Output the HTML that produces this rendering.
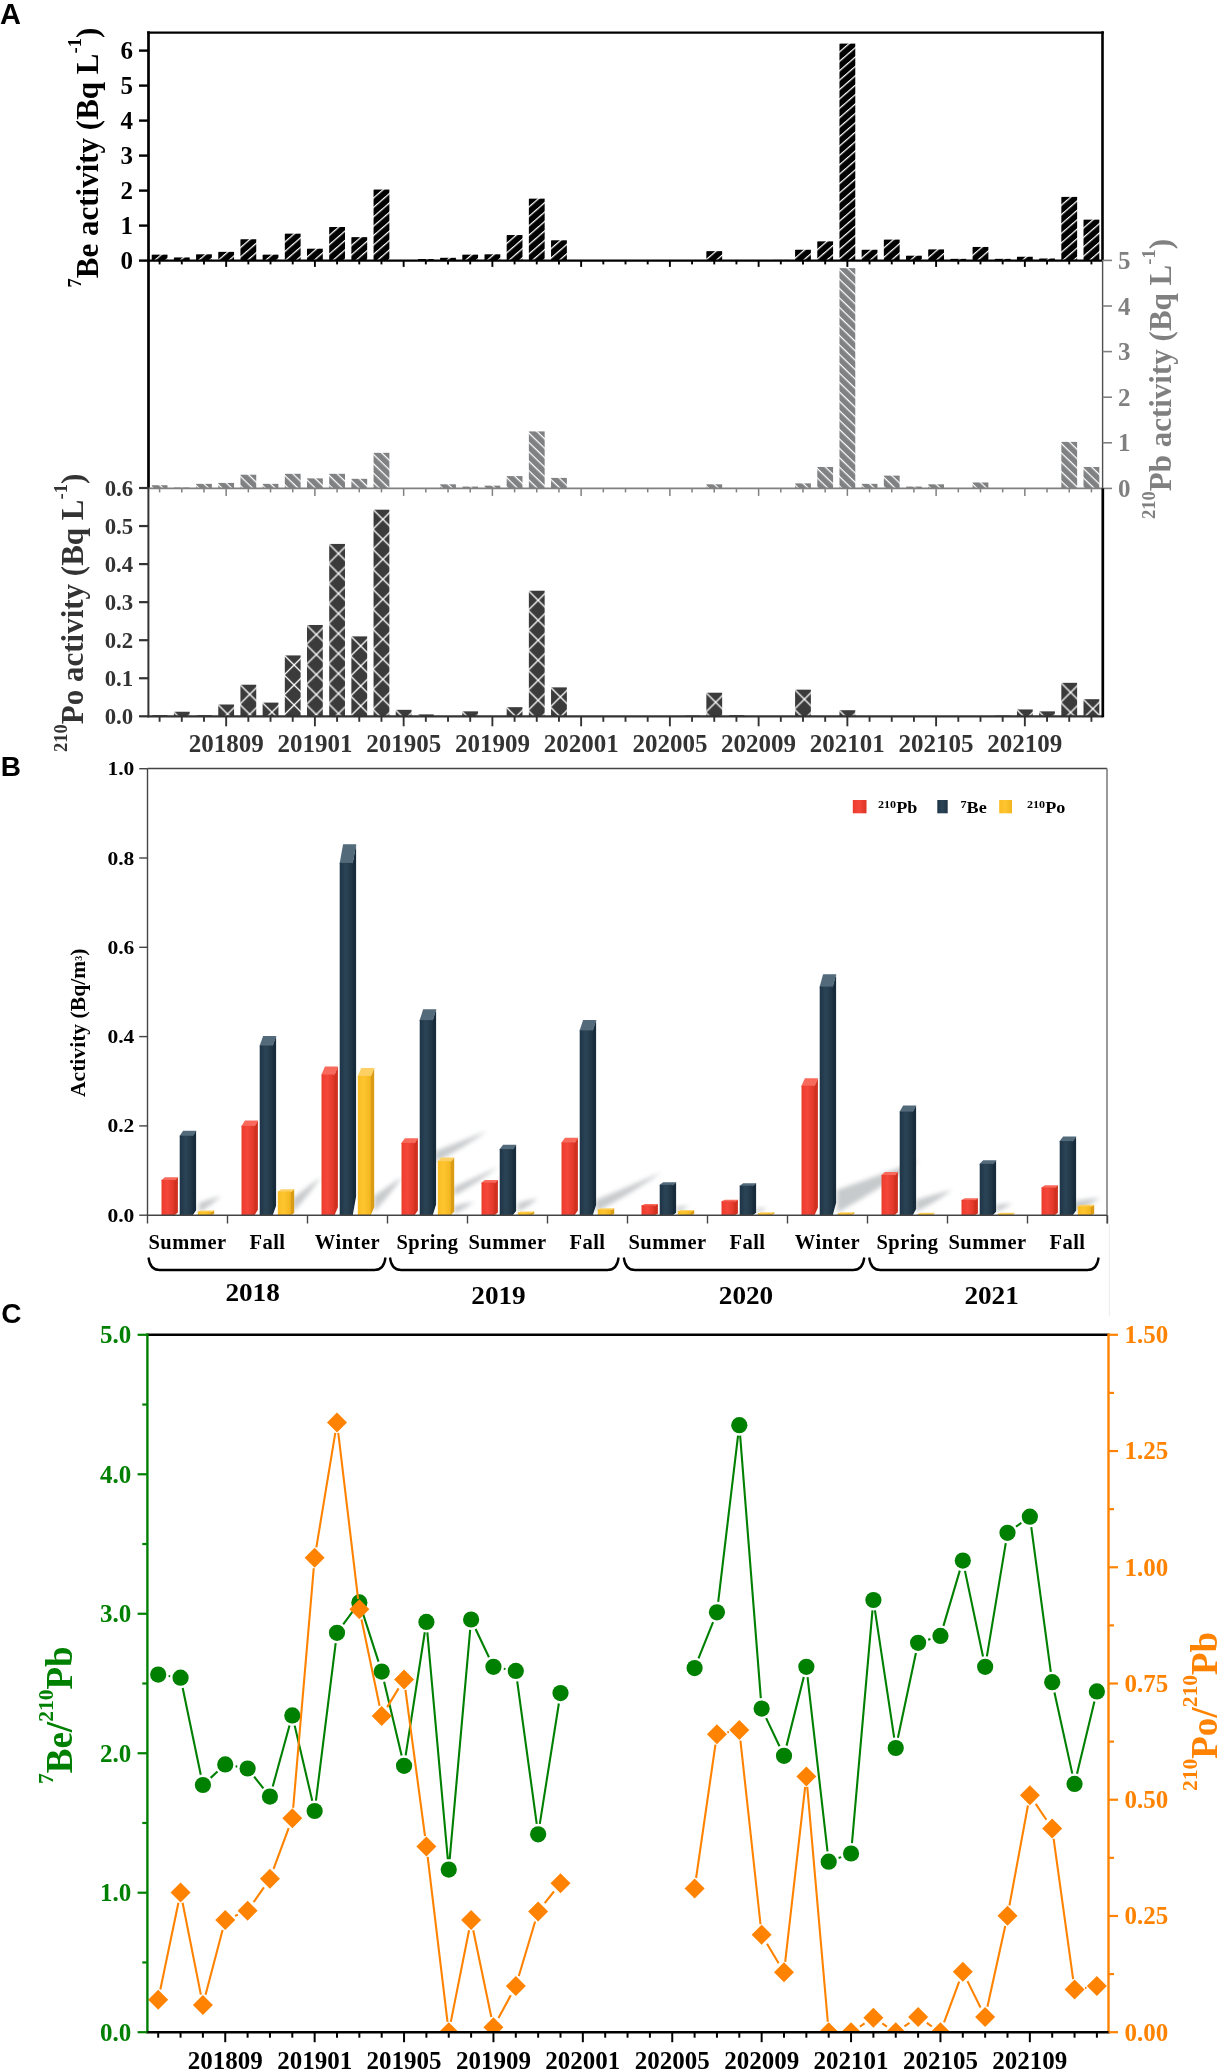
<!DOCTYPE html>
<html><head><meta charset="utf-8"><title>Figure</title>
<style>html,body{margin:0;padding:0;background:#fff;} svg{display:block;will-change:transform;}</style></head>
<body><svg width="1221" height="2072" viewBox="0 0 1221 2072">
<defs><pattern id="hBe" patternUnits="userSpaceOnUse" width="40" height="7.094" y="0.5" patternTransform="rotate(-41)"><rect x="0" y="0" width="40" height="7.094" fill="#000"/><rect x="0" y="0" width="40" height="1.25" fill="#fff"/></pattern><pattern id="hPb" patternUnits="userSpaceOnUse" width="40" height="6.762" y="-0.75" patternTransform="rotate(44)"><rect x="0" y="0" width="40" height="6.762" fill="#808183"/><rect x="0" y="0" width="40" height="1.25" fill="#fff"/></pattern><pattern id="hPo" patternUnits="userSpaceOnUse" width="20" height="20" x="-8.6" y="-0.4"><rect width="20" height="20" fill="#3b3b3c"/><path d="M-2,-2 L22,22 M-2,22 L22,-2 M-12,8 L-8,12 M8,-12 L12,-8" stroke="#fff" stroke-width="1.3" fill="none"/></pattern><filter id="blur3" x="-50%" y="-50%" width="200%" height="200%"><feGaussianBlur stdDeviation="3"/></filter><filter id="blur2" x="-50%" y="-50%" width="200%" height="200%"><feGaussianBlur stdDeviation="2"/></filter><clipPath id="clipC"><rect x="147" y="1334" width="962" height="698.3"/></clipPath><linearGradient id="gf0" x1="0" y1="0" x2="1" y2="0"><stop offset="0" stop-color="#ec3b2b"/><stop offset="0.45" stop-color="#f4473a"/><stop offset="1" stop-color="#dd3525"/></linearGradient><linearGradient id="gf1" x1="0" y1="0" x2="1" y2="0"><stop offset="0" stop-color="#1d3446"/><stop offset="0.45" stop-color="#2b4455"/><stop offset="1" stop-color="#1f3445"/></linearGradient><linearGradient id="gf2" x1="0" y1="0" x2="1" y2="0"><stop offset="0" stop-color="#fbbd22"/><stop offset="0.45" stop-color="#fec530"/><stop offset="1" stop-color="#f2b51e"/></linearGradient></defs>
<rect width="1221" height="2072" fill="#fff"/>
<text x="0.00" y="24.30" font-family='"Liberation Sans", sans-serif' font-size="29" font-weight="bold" fill="#000" text-anchor="start" >A</text>
<g transform="translate(159.60,254.65)"><rect x="-7.90" y="0" width="15.8" height="5.95" fill="url(#hBe)"/></g>
<g transform="translate(181.79,257.45)"><rect x="-7.90" y="0" width="15.8" height="3.15" fill="url(#hBe)"/></g>
<g transform="translate(203.97,254.30)"><rect x="-7.90" y="0" width="15.8" height="6.30" fill="url(#hBe)"/></g>
<g transform="translate(226.16,251.85)"><rect x="-7.90" y="0" width="15.8" height="8.75" fill="url(#hBe)"/></g>
<g transform="translate(248.34,239.25)"><rect x="-7.90" y="0" width="15.8" height="21.35" fill="url(#hBe)"/></g>
<g transform="translate(270.53,254.65)"><rect x="-7.90" y="0" width="15.8" height="5.95" fill="url(#hBe)"/></g>
<g transform="translate(292.72,233.65)"><rect x="-7.90" y="0" width="15.8" height="26.95" fill="url(#hBe)"/></g>
<g transform="translate(314.90,248.70)"><rect x="-7.90" y="0" width="15.8" height="11.90" fill="url(#hBe)"/></g>
<g transform="translate(337.09,227.00)"><rect x="-7.90" y="0" width="15.8" height="33.60" fill="url(#hBe)"/></g>
<g transform="translate(359.27,237.15)"><rect x="-7.90" y="0" width="15.8" height="23.45" fill="url(#hBe)"/></g>
<g transform="translate(381.46,189.55)"><rect x="-7.90" y="0" width="15.8" height="71.05" fill="url(#hBe)"/></g>
<g transform="translate(425.83,259.03)"><rect x="-7.90" y="0" width="15.8" height="1.57" fill="url(#hBe)"/></g>
<g transform="translate(448.02,257.80)"><rect x="-7.90" y="0" width="15.8" height="2.80" fill="url(#hBe)"/></g>
<g transform="translate(470.20,254.65)"><rect x="-7.90" y="0" width="15.8" height="5.95" fill="url(#hBe)"/></g>
<g transform="translate(492.39,254.30)"><rect x="-7.90" y="0" width="15.8" height="6.30" fill="url(#hBe)"/></g>
<g transform="translate(514.58,235.05)"><rect x="-7.90" y="0" width="15.8" height="25.55" fill="url(#hBe)"/></g>
<g transform="translate(536.76,198.65)"><rect x="-7.90" y="0" width="15.8" height="61.95" fill="url(#hBe)"/></g>
<g transform="translate(558.95,240.30)"><rect x="-7.90" y="0" width="15.8" height="20.30" fill="url(#hBe)"/></g>
<g transform="translate(714.25,251.15)"><rect x="-7.90" y="0" width="15.8" height="9.45" fill="url(#hBe)"/></g>
<g transform="translate(780.81,259.90)"><rect x="-7.90" y="0" width="15.8" height="0.70" fill="url(#hBe)"/></g>
<g transform="translate(802.99,249.75)"><rect x="-7.90" y="0" width="15.8" height="10.85" fill="url(#hBe)"/></g>
<g transform="translate(825.18,241.35)"><rect x="-7.90" y="0" width="15.8" height="19.25" fill="url(#hBe)"/></g>
<g transform="translate(847.37,43.60)"><rect x="-7.90" y="0" width="15.8" height="217.00" fill="url(#hBe)"/></g>
<g transform="translate(869.55,249.75)"><rect x="-7.90" y="0" width="15.8" height="10.85" fill="url(#hBe)"/></g>
<g transform="translate(891.74,239.60)"><rect x="-7.90" y="0" width="15.8" height="21.00" fill="url(#hBe)"/></g>
<g transform="translate(913.92,255.70)"><rect x="-7.90" y="0" width="15.8" height="4.90" fill="url(#hBe)"/></g>
<g transform="translate(936.11,249.40)"><rect x="-7.90" y="0" width="15.8" height="11.20" fill="url(#hBe)"/></g>
<g transform="translate(958.30,258.85)"><rect x="-7.90" y="0" width="15.8" height="1.75" fill="url(#hBe)"/></g>
<g transform="translate(980.48,246.95)"><rect x="-7.90" y="0" width="15.8" height="13.65" fill="url(#hBe)"/></g>
<g transform="translate(1002.67,258.85)"><rect x="-7.90" y="0" width="15.8" height="1.75" fill="url(#hBe)"/></g>
<g transform="translate(1024.85,256.75)"><rect x="-7.90" y="0" width="15.8" height="3.85" fill="url(#hBe)"/></g>
<g transform="translate(1047.04,258.50)"><rect x="-7.90" y="0" width="15.8" height="2.10" fill="url(#hBe)"/></g>
<g transform="translate(1069.23,196.90)"><rect x="-7.90" y="0" width="15.8" height="63.70" fill="url(#hBe)"/></g>
<g transform="translate(1091.41,219.65)"><rect x="-7.90" y="0" width="15.8" height="40.95" fill="url(#hBe)"/></g>
<g transform="translate(159.60,485.21)"><rect x="-7.90" y="0" width="15.8" height="3.19" fill="url(#hPb)"/></g>
<g transform="translate(181.79,487.49)"><rect x="-7.90" y="0" width="15.8" height="0.91" fill="url(#hPb)"/></g>
<g transform="translate(203.97,483.84)"><rect x="-7.90" y="0" width="15.8" height="4.56" fill="url(#hPb)"/></g>
<g transform="translate(226.16,482.93)"><rect x="-7.90" y="0" width="15.8" height="5.47" fill="url(#hPb)"/></g>
<g transform="translate(248.34,474.72)"><rect x="-7.90" y="0" width="15.8" height="13.68" fill="url(#hPb)"/></g>
<g transform="translate(270.53,483.84)"><rect x="-7.90" y="0" width="15.8" height="4.56" fill="url(#hPb)"/></g>
<g transform="translate(292.72,473.81)"><rect x="-7.90" y="0" width="15.8" height="14.59" fill="url(#hPb)"/></g>
<g transform="translate(314.90,478.37)"><rect x="-7.90" y="0" width="15.8" height="10.03" fill="url(#hPb)"/></g>
<g transform="translate(337.09,473.81)"><rect x="-7.90" y="0" width="15.8" height="14.59" fill="url(#hPb)"/></g>
<g transform="translate(359.27,478.82)"><rect x="-7.90" y="0" width="15.8" height="9.58" fill="url(#hPb)"/></g>
<g transform="translate(381.46,452.83)"><rect x="-7.90" y="0" width="15.8" height="35.57" fill="url(#hPb)"/></g>
<g transform="translate(448.02,484.30)"><rect x="-7.90" y="0" width="15.8" height="4.10" fill="url(#hPb)"/></g>
<g transform="translate(470.20,486.58)"><rect x="-7.90" y="0" width="15.8" height="1.82" fill="url(#hPb)"/></g>
<g transform="translate(492.39,485.66)"><rect x="-7.90" y="0" width="15.8" height="2.74" fill="url(#hPb)"/></g>
<g transform="translate(514.58,476.09)"><rect x="-7.90" y="0" width="15.8" height="12.31" fill="url(#hPb)"/></g>
<g transform="translate(536.76,431.40)"><rect x="-7.90" y="0" width="15.8" height="57.00" fill="url(#hPb)"/></g>
<g transform="translate(558.95,477.91)"><rect x="-7.90" y="0" width="15.8" height="10.49" fill="url(#hPb)"/></g>
<g transform="translate(714.25,484.30)"><rect x="-7.90" y="0" width="15.8" height="4.10" fill="url(#hPb)"/></g>
<g transform="translate(802.99,483.38)"><rect x="-7.90" y="0" width="15.8" height="5.02" fill="url(#hPb)"/></g>
<g transform="translate(825.18,466.97)"><rect x="-7.90" y="0" width="15.8" height="21.43" fill="url(#hPb)"/></g>
<g transform="translate(847.37,268.15)"><rect x="-7.90" y="0" width="15.8" height="220.25" fill="url(#hPb)"/></g>
<g transform="translate(869.55,483.84)"><rect x="-7.90" y="0" width="15.8" height="4.56" fill="url(#hPb)"/></g>
<g transform="translate(891.74,475.63)"><rect x="-7.90" y="0" width="15.8" height="12.77" fill="url(#hPb)"/></g>
<g transform="translate(913.92,486.58)"><rect x="-7.90" y="0" width="15.8" height="1.82" fill="url(#hPb)"/></g>
<g transform="translate(936.11,484.30)"><rect x="-7.90" y="0" width="15.8" height="4.10" fill="url(#hPb)"/></g>
<g transform="translate(980.48,482.47)"><rect x="-7.90" y="0" width="15.8" height="5.93" fill="url(#hPb)"/></g>
<g transform="translate(1069.23,441.89)"><rect x="-7.90" y="0" width="15.8" height="46.51" fill="url(#hPb)"/></g>
<g transform="translate(1091.41,466.97)"><rect x="-7.90" y="0" width="15.8" height="21.43" fill="url(#hPb)"/></g>
<g transform="translate(159.60,715.16)"><rect x="-7.90" y="0" width="15.8" height="1.14" fill="url(#hPo)"/></g>
<g transform="translate(181.79,711.73)"><rect x="-7.90" y="0" width="15.8" height="4.57" fill="url(#hPo)"/></g>
<g transform="translate(203.97,715.16)"><rect x="-7.90" y="0" width="15.8" height="1.14" fill="url(#hPo)"/></g>
<g transform="translate(226.16,704.50)"><rect x="-7.90" y="0" width="15.8" height="11.80" fill="url(#hPo)"/></g>
<g transform="translate(248.34,684.72)"><rect x="-7.90" y="0" width="15.8" height="31.58" fill="url(#hPo)"/></g>
<g transform="translate(270.53,702.60)"><rect x="-7.90" y="0" width="15.8" height="13.70" fill="url(#hPo)"/></g>
<g transform="translate(292.72,655.42)"><rect x="-7.90" y="0" width="15.8" height="60.88" fill="url(#hPo)"/></g>
<g transform="translate(314.90,624.98)"><rect x="-7.90" y="0" width="15.8" height="91.32" fill="url(#hPo)"/></g>
<g transform="translate(337.09,543.93)"><rect x="-7.90" y="0" width="15.8" height="172.37" fill="url(#hPo)"/></g>
<g transform="translate(359.27,636.39)"><rect x="-7.90" y="0" width="15.8" height="79.91" fill="url(#hPo)"/></g>
<g transform="translate(381.46,509.69)"><rect x="-7.90" y="0" width="15.8" height="206.61" fill="url(#hPo)"/></g>
<g transform="translate(403.65,709.83)"><rect x="-7.90" y="0" width="15.8" height="6.47" fill="url(#hPo)"/></g>
<g transform="translate(425.83,714.40)"><rect x="-7.90" y="0" width="15.8" height="1.90" fill="url(#hPo)"/></g>
<g transform="translate(470.20,711.35)"><rect x="-7.90" y="0" width="15.8" height="4.95" fill="url(#hPo)"/></g>
<g transform="translate(514.58,707.17)"><rect x="-7.90" y="0" width="15.8" height="9.13" fill="url(#hPo)"/></g>
<g transform="translate(536.76,590.73)"><rect x="-7.90" y="0" width="15.8" height="125.57" fill="url(#hPo)"/></g>
<g transform="translate(558.95,687.38)"><rect x="-7.90" y="0" width="15.8" height="28.92" fill="url(#hPo)"/></g>
<g transform="translate(692.06,715.54)"><rect x="-7.90" y="0" width="15.8" height="0.76" fill="url(#hPo)"/></g>
<g transform="translate(714.25,692.71)"><rect x="-7.90" y="0" width="15.8" height="23.59" fill="url(#hPo)"/></g>
<g transform="translate(736.44,715.16)"><rect x="-7.90" y="0" width="15.8" height="1.14" fill="url(#hPo)"/></g>
<g transform="translate(802.99,689.66)"><rect x="-7.90" y="0" width="15.8" height="26.64" fill="url(#hPo)"/></g>
<g transform="translate(847.37,710.21)"><rect x="-7.90" y="0" width="15.8" height="6.09" fill="url(#hPo)"/></g>
<g transform="translate(1002.67,715.54)"><rect x="-7.90" y="0" width="15.8" height="0.76" fill="url(#hPo)"/></g>
<g transform="translate(1024.85,709.45)"><rect x="-7.90" y="0" width="15.8" height="6.85" fill="url(#hPo)"/></g>
<g transform="translate(1047.04,711.35)"><rect x="-7.90" y="0" width="15.8" height="4.95" fill="url(#hPo)"/></g>
<g transform="translate(1069.23,682.82)"><rect x="-7.90" y="0" width="15.8" height="33.48" fill="url(#hPo)"/></g>
<g transform="translate(1091.41,699.18)"><rect x="-7.90" y="0" width="15.8" height="17.12" fill="url(#hPo)"/></g>
<line x1="147.30" y1="32.60" x2="1103.80" y2="32.60" stroke="#000" stroke-width="2.3" />
<line x1="1102.50" y1="31.30" x2="1102.50" y2="260.00" stroke="#000" stroke-width="2.6" />
<line x1="148.50" y1="31.30" x2="148.50" y2="488.40" stroke="#000" stroke-width="2.7" />
<line x1="147.30" y1="260.60" x2="1102.50" y2="260.60" stroke="#000" stroke-width="2.4" />
<line x1="139.00" y1="260.60" x2="148.50" y2="260.60" stroke="#000" stroke-width="2.4" />
<text x="133.00" y="269.20" font-family='"Liberation Serif", serif' font-size="25" font-weight="bold" fill="#000" text-anchor="end" >0</text>
<line x1="139.00" y1="225.60" x2="148.50" y2="225.60" stroke="#000" stroke-width="2.4" />
<text x="133.00" y="234.20" font-family='"Liberation Serif", serif' font-size="25" font-weight="bold" fill="#000" text-anchor="end" >1</text>
<line x1="139.00" y1="190.60" x2="148.50" y2="190.60" stroke="#000" stroke-width="2.4" />
<text x="133.00" y="199.20" font-family='"Liberation Serif", serif' font-size="25" font-weight="bold" fill="#000" text-anchor="end" >2</text>
<line x1="139.00" y1="155.60" x2="148.50" y2="155.60" stroke="#000" stroke-width="2.4" />
<text x="133.00" y="164.20" font-family='"Liberation Serif", serif' font-size="25" font-weight="bold" fill="#000" text-anchor="end" >3</text>
<line x1="139.00" y1="120.60" x2="148.50" y2="120.60" stroke="#000" stroke-width="2.4" />
<text x="133.00" y="129.20" font-family='"Liberation Serif", serif' font-size="25" font-weight="bold" fill="#000" text-anchor="end" >4</text>
<line x1="139.00" y1="85.60" x2="148.50" y2="85.60" stroke="#000" stroke-width="2.4" />
<text x="133.00" y="94.20" font-family='"Liberation Serif", serif' font-size="25" font-weight="bold" fill="#000" text-anchor="end" >5</text>
<line x1="139.00" y1="50.60" x2="148.50" y2="50.60" stroke="#000" stroke-width="2.4" />
<text x="133.00" y="59.20" font-family='"Liberation Serif", serif' font-size="25" font-weight="bold" fill="#000" text-anchor="end" >6</text>
<line x1="159.60" y1="260.60" x2="159.60" y2="264.40" stroke="#000" stroke-width="1.9" />
<line x1="181.79" y1="260.60" x2="181.79" y2="264.40" stroke="#000" stroke-width="1.9" />
<line x1="203.97" y1="260.60" x2="203.97" y2="264.40" stroke="#000" stroke-width="1.9" />
<line x1="226.16" y1="260.60" x2="226.16" y2="266.90" stroke="#000" stroke-width="1.9" />
<line x1="248.34" y1="260.60" x2="248.34" y2="264.40" stroke="#000" stroke-width="1.9" />
<line x1="270.53" y1="260.60" x2="270.53" y2="264.40" stroke="#000" stroke-width="1.9" />
<line x1="292.72" y1="260.60" x2="292.72" y2="264.40" stroke="#000" stroke-width="1.9" />
<line x1="314.90" y1="260.60" x2="314.90" y2="266.90" stroke="#000" stroke-width="1.9" />
<line x1="337.09" y1="260.60" x2="337.09" y2="264.40" stroke="#000" stroke-width="1.9" />
<line x1="359.27" y1="260.60" x2="359.27" y2="264.40" stroke="#000" stroke-width="1.9" />
<line x1="381.46" y1="260.60" x2="381.46" y2="264.40" stroke="#000" stroke-width="1.9" />
<line x1="403.65" y1="260.60" x2="403.65" y2="266.90" stroke="#000" stroke-width="1.9" />
<line x1="425.83" y1="260.60" x2="425.83" y2="264.40" stroke="#000" stroke-width="1.9" />
<line x1="448.02" y1="260.60" x2="448.02" y2="264.40" stroke="#000" stroke-width="1.9" />
<line x1="470.20" y1="260.60" x2="470.20" y2="264.40" stroke="#000" stroke-width="1.9" />
<line x1="492.39" y1="260.60" x2="492.39" y2="266.90" stroke="#000" stroke-width="1.9" />
<line x1="514.58" y1="260.60" x2="514.58" y2="264.40" stroke="#000" stroke-width="1.9" />
<line x1="536.76" y1="260.60" x2="536.76" y2="264.40" stroke="#000" stroke-width="1.9" />
<line x1="558.95" y1="260.60" x2="558.95" y2="264.40" stroke="#000" stroke-width="1.9" />
<line x1="581.13" y1="260.60" x2="581.13" y2="266.90" stroke="#000" stroke-width="1.9" />
<line x1="603.32" y1="260.60" x2="603.32" y2="264.40" stroke="#000" stroke-width="1.9" />
<line x1="625.51" y1="260.60" x2="625.51" y2="264.40" stroke="#000" stroke-width="1.9" />
<line x1="647.69" y1="260.60" x2="647.69" y2="264.40" stroke="#000" stroke-width="1.9" />
<line x1="669.88" y1="260.60" x2="669.88" y2="266.90" stroke="#000" stroke-width="1.9" />
<line x1="692.06" y1="260.60" x2="692.06" y2="264.40" stroke="#000" stroke-width="1.9" />
<line x1="714.25" y1="260.60" x2="714.25" y2="264.40" stroke="#000" stroke-width="1.9" />
<line x1="736.44" y1="260.60" x2="736.44" y2="264.40" stroke="#000" stroke-width="1.9" />
<line x1="758.62" y1="260.60" x2="758.62" y2="266.90" stroke="#000" stroke-width="1.9" />
<line x1="780.81" y1="260.60" x2="780.81" y2="264.40" stroke="#000" stroke-width="1.9" />
<line x1="802.99" y1="260.60" x2="802.99" y2="264.40" stroke="#000" stroke-width="1.9" />
<line x1="825.18" y1="260.60" x2="825.18" y2="264.40" stroke="#000" stroke-width="1.9" />
<line x1="847.37" y1="260.60" x2="847.37" y2="266.90" stroke="#000" stroke-width="1.9" />
<line x1="869.55" y1="260.60" x2="869.55" y2="264.40" stroke="#000" stroke-width="1.9" />
<line x1="891.74" y1="260.60" x2="891.74" y2="264.40" stroke="#000" stroke-width="1.9" />
<line x1="913.92" y1="260.60" x2="913.92" y2="264.40" stroke="#000" stroke-width="1.9" />
<line x1="936.11" y1="260.60" x2="936.11" y2="266.90" stroke="#000" stroke-width="1.9" />
<line x1="958.30" y1="260.60" x2="958.30" y2="264.40" stroke="#000" stroke-width="1.9" />
<line x1="980.48" y1="260.60" x2="980.48" y2="264.40" stroke="#000" stroke-width="1.9" />
<line x1="1002.67" y1="260.60" x2="1002.67" y2="264.40" stroke="#000" stroke-width="1.9" />
<line x1="1024.85" y1="260.60" x2="1024.85" y2="266.90" stroke="#000" stroke-width="1.9" />
<line x1="1047.04" y1="260.60" x2="1047.04" y2="264.40" stroke="#000" stroke-width="1.9" />
<line x1="1069.23" y1="260.60" x2="1069.23" y2="264.40" stroke="#000" stroke-width="1.9" />
<line x1="1091.41" y1="260.60" x2="1091.41" y2="264.40" stroke="#000" stroke-width="1.9" />
<text transform="translate(97.60,287.50) rotate(-90)" font-family='"Liberation Serif", serif' font-size="31" font-weight="bold" fill="#000" text-anchor="start"><tspan font-size="18.5" dy="-16.30">7</tspan><tspan dy="16.30">Be activity (Bq L</tspan><tspan font-size="18.5" dy="-16.30">-1</tspan><tspan dy="16.30">)</tspan></text>
<line x1="148.50" y1="488.40" x2="1102.60" y2="488.40" stroke="#808080" stroke-width="1.7" />
<line x1="1102.60" y1="260.60" x2="1102.60" y2="488.40" stroke="#4d4d4d" stroke-width="1.4" />
<line x1="1102.60" y1="488.40" x2="1112.00" y2="488.40" stroke="#808080" stroke-width="1.6" />
<text x="1118.00" y="497.00" font-family='"Liberation Serif", serif' font-size="25" font-weight="bold" fill="#808080" text-anchor="start" >0</text>
<line x1="1102.60" y1="442.80" x2="1112.00" y2="442.80" stroke="#808080" stroke-width="1.6" />
<text x="1118.00" y="451.40" font-family='"Liberation Serif", serif' font-size="25" font-weight="bold" fill="#808080" text-anchor="start" >1</text>
<line x1="1102.60" y1="397.20" x2="1112.00" y2="397.20" stroke="#808080" stroke-width="1.6" />
<text x="1118.00" y="405.80" font-family='"Liberation Serif", serif' font-size="25" font-weight="bold" fill="#808080" text-anchor="start" >2</text>
<line x1="1102.60" y1="351.60" x2="1112.00" y2="351.60" stroke="#808080" stroke-width="1.6" />
<text x="1118.00" y="360.20" font-family='"Liberation Serif", serif' font-size="25" font-weight="bold" fill="#808080" text-anchor="start" >3</text>
<line x1="1102.60" y1="306.00" x2="1112.00" y2="306.00" stroke="#808080" stroke-width="1.6" />
<text x="1118.00" y="314.60" font-family='"Liberation Serif", serif' font-size="25" font-weight="bold" fill="#808080" text-anchor="start" >4</text>
<line x1="1102.60" y1="260.40" x2="1112.00" y2="260.40" stroke="#808080" stroke-width="1.6" />
<text x="1118.00" y="269.00" font-family='"Liberation Serif", serif' font-size="25" font-weight="bold" fill="#808080" text-anchor="start" >5</text>
<line x1="159.60" y1="488.40" x2="159.60" y2="492.40" stroke="#808080" stroke-width="1.5" />
<line x1="181.79" y1="488.40" x2="181.79" y2="492.40" stroke="#808080" stroke-width="1.5" />
<line x1="203.97" y1="488.40" x2="203.97" y2="492.40" stroke="#808080" stroke-width="1.5" />
<line x1="226.16" y1="488.40" x2="226.16" y2="495.90" stroke="#808080" stroke-width="1.5" />
<line x1="248.34" y1="488.40" x2="248.34" y2="492.40" stroke="#808080" stroke-width="1.5" />
<line x1="270.53" y1="488.40" x2="270.53" y2="492.40" stroke="#808080" stroke-width="1.5" />
<line x1="292.72" y1="488.40" x2="292.72" y2="492.40" stroke="#808080" stroke-width="1.5" />
<line x1="314.90" y1="488.40" x2="314.90" y2="495.90" stroke="#808080" stroke-width="1.5" />
<line x1="337.09" y1="488.40" x2="337.09" y2="492.40" stroke="#808080" stroke-width="1.5" />
<line x1="359.27" y1="488.40" x2="359.27" y2="492.40" stroke="#808080" stroke-width="1.5" />
<line x1="381.46" y1="488.40" x2="381.46" y2="492.40" stroke="#808080" stroke-width="1.5" />
<line x1="403.65" y1="488.40" x2="403.65" y2="495.90" stroke="#808080" stroke-width="1.5" />
<line x1="425.83" y1="488.40" x2="425.83" y2="492.40" stroke="#808080" stroke-width="1.5" />
<line x1="448.02" y1="488.40" x2="448.02" y2="492.40" stroke="#808080" stroke-width="1.5" />
<line x1="470.20" y1="488.40" x2="470.20" y2="492.40" stroke="#808080" stroke-width="1.5" />
<line x1="492.39" y1="488.40" x2="492.39" y2="495.90" stroke="#808080" stroke-width="1.5" />
<line x1="514.58" y1="488.40" x2="514.58" y2="492.40" stroke="#808080" stroke-width="1.5" />
<line x1="536.76" y1="488.40" x2="536.76" y2="492.40" stroke="#808080" stroke-width="1.5" />
<line x1="558.95" y1="488.40" x2="558.95" y2="492.40" stroke="#808080" stroke-width="1.5" />
<line x1="581.13" y1="488.40" x2="581.13" y2="495.90" stroke="#808080" stroke-width="1.5" />
<line x1="603.32" y1="488.40" x2="603.32" y2="492.40" stroke="#808080" stroke-width="1.5" />
<line x1="625.51" y1="488.40" x2="625.51" y2="492.40" stroke="#808080" stroke-width="1.5" />
<line x1="647.69" y1="488.40" x2="647.69" y2="492.40" stroke="#808080" stroke-width="1.5" />
<line x1="669.88" y1="488.40" x2="669.88" y2="495.90" stroke="#808080" stroke-width="1.5" />
<line x1="692.06" y1="488.40" x2="692.06" y2="492.40" stroke="#808080" stroke-width="1.5" />
<line x1="714.25" y1="488.40" x2="714.25" y2="492.40" stroke="#808080" stroke-width="1.5" />
<line x1="736.44" y1="488.40" x2="736.44" y2="492.40" stroke="#808080" stroke-width="1.5" />
<line x1="758.62" y1="488.40" x2="758.62" y2="495.90" stroke="#808080" stroke-width="1.5" />
<line x1="780.81" y1="488.40" x2="780.81" y2="492.40" stroke="#808080" stroke-width="1.5" />
<line x1="802.99" y1="488.40" x2="802.99" y2="492.40" stroke="#808080" stroke-width="1.5" />
<line x1="825.18" y1="488.40" x2="825.18" y2="492.40" stroke="#808080" stroke-width="1.5" />
<line x1="847.37" y1="488.40" x2="847.37" y2="495.90" stroke="#808080" stroke-width="1.5" />
<line x1="869.55" y1="488.40" x2="869.55" y2="492.40" stroke="#808080" stroke-width="1.5" />
<line x1="891.74" y1="488.40" x2="891.74" y2="492.40" stroke="#808080" stroke-width="1.5" />
<line x1="913.92" y1="488.40" x2="913.92" y2="492.40" stroke="#808080" stroke-width="1.5" />
<line x1="936.11" y1="488.40" x2="936.11" y2="495.90" stroke="#808080" stroke-width="1.5" />
<line x1="958.30" y1="488.40" x2="958.30" y2="492.40" stroke="#808080" stroke-width="1.5" />
<line x1="980.48" y1="488.40" x2="980.48" y2="492.40" stroke="#808080" stroke-width="1.5" />
<line x1="1002.67" y1="488.40" x2="1002.67" y2="492.40" stroke="#808080" stroke-width="1.5" />
<line x1="1024.85" y1="488.40" x2="1024.85" y2="495.90" stroke="#808080" stroke-width="1.5" />
<line x1="1047.04" y1="488.40" x2="1047.04" y2="492.40" stroke="#808080" stroke-width="1.5" />
<line x1="1069.23" y1="488.40" x2="1069.23" y2="492.40" stroke="#808080" stroke-width="1.5" />
<line x1="1091.41" y1="488.40" x2="1091.41" y2="492.40" stroke="#808080" stroke-width="1.5" />
<text transform="translate(1171.00,519.00) rotate(-90)" font-family='"Liberation Serif", serif' font-size="31" font-weight="bold" fill="#808080" text-anchor="start"><tspan font-size="18.5" dy="-16.30">210</tspan><tspan dy="16.30">Pb activity (Bq L</tspan><tspan font-size="18.5" dy="-16.30">-1</tspan><tspan dy="16.30">)</tspan></text>
<line x1="148.40" y1="488.40" x2="148.40" y2="717.30" stroke="#333333" stroke-width="2" />
<line x1="147.40" y1="716.30" x2="1102.80" y2="716.30" stroke="#333333" stroke-width="2.2" />
<line x1="1102.80" y1="488.40" x2="1102.80" y2="717.30" stroke="#000" stroke-width="2.7" />
<line x1="139.00" y1="716.30" x2="148.40" y2="716.30" stroke="#333333" stroke-width="2.2" />
<text x="133.20" y="724.20" font-family='"Liberation Serif", serif' font-size="22.8" font-weight="bold" fill="#333333" text-anchor="end" >0.0</text>
<line x1="139.00" y1="678.25" x2="148.40" y2="678.25" stroke="#333333" stroke-width="2.2" />
<text x="133.20" y="686.15" font-family='"Liberation Serif", serif' font-size="22.8" font-weight="bold" fill="#333333" text-anchor="end" >0.1</text>
<line x1="139.00" y1="640.20" x2="148.40" y2="640.20" stroke="#333333" stroke-width="2.2" />
<text x="133.20" y="648.10" font-family='"Liberation Serif", serif' font-size="22.8" font-weight="bold" fill="#333333" text-anchor="end" >0.2</text>
<line x1="139.00" y1="602.15" x2="148.40" y2="602.15" stroke="#333333" stroke-width="2.2" />
<text x="133.20" y="610.05" font-family='"Liberation Serif", serif' font-size="22.8" font-weight="bold" fill="#333333" text-anchor="end" >0.3</text>
<line x1="139.00" y1="564.10" x2="148.40" y2="564.10" stroke="#333333" stroke-width="2.2" />
<text x="133.20" y="572.00" font-family='"Liberation Serif", serif' font-size="22.8" font-weight="bold" fill="#333333" text-anchor="end" >0.4</text>
<line x1="139.00" y1="526.05" x2="148.40" y2="526.05" stroke="#333333" stroke-width="2.2" />
<text x="133.20" y="533.95" font-family='"Liberation Serif", serif' font-size="22.8" font-weight="bold" fill="#333333" text-anchor="end" >0.5</text>
<line x1="139.00" y1="488.00" x2="148.40" y2="488.00" stroke="#333333" stroke-width="2.2" />
<text x="133.20" y="495.90" font-family='"Liberation Serif", serif' font-size="22.8" font-weight="bold" fill="#333333" text-anchor="end" >0.6</text>
<line x1="159.60" y1="716.30" x2="159.60" y2="721.80" stroke="#333333" stroke-width="1.9" />
<line x1="181.79" y1="716.30" x2="181.79" y2="721.80" stroke="#333333" stroke-width="1.9" />
<line x1="203.97" y1="716.30" x2="203.97" y2="721.80" stroke="#333333" stroke-width="1.9" />
<line x1="226.16" y1="716.30" x2="226.16" y2="726.30" stroke="#333333" stroke-width="1.9" />
<line x1="248.34" y1="716.30" x2="248.34" y2="721.80" stroke="#333333" stroke-width="1.9" />
<line x1="270.53" y1="716.30" x2="270.53" y2="721.80" stroke="#333333" stroke-width="1.9" />
<line x1="292.72" y1="716.30" x2="292.72" y2="721.80" stroke="#333333" stroke-width="1.9" />
<line x1="314.90" y1="716.30" x2="314.90" y2="726.30" stroke="#333333" stroke-width="1.9" />
<line x1="337.09" y1="716.30" x2="337.09" y2="721.80" stroke="#333333" stroke-width="1.9" />
<line x1="359.27" y1="716.30" x2="359.27" y2="721.80" stroke="#333333" stroke-width="1.9" />
<line x1="381.46" y1="716.30" x2="381.46" y2="721.80" stroke="#333333" stroke-width="1.9" />
<line x1="403.65" y1="716.30" x2="403.65" y2="726.30" stroke="#333333" stroke-width="1.9" />
<line x1="425.83" y1="716.30" x2="425.83" y2="721.80" stroke="#333333" stroke-width="1.9" />
<line x1="448.02" y1="716.30" x2="448.02" y2="721.80" stroke="#333333" stroke-width="1.9" />
<line x1="470.20" y1="716.30" x2="470.20" y2="721.80" stroke="#333333" stroke-width="1.9" />
<line x1="492.39" y1="716.30" x2="492.39" y2="726.30" stroke="#333333" stroke-width="1.9" />
<line x1="514.58" y1="716.30" x2="514.58" y2="721.80" stroke="#333333" stroke-width="1.9" />
<line x1="536.76" y1="716.30" x2="536.76" y2="721.80" stroke="#333333" stroke-width="1.9" />
<line x1="558.95" y1="716.30" x2="558.95" y2="721.80" stroke="#333333" stroke-width="1.9" />
<line x1="581.13" y1="716.30" x2="581.13" y2="726.30" stroke="#333333" stroke-width="1.9" />
<line x1="603.32" y1="716.30" x2="603.32" y2="721.80" stroke="#333333" stroke-width="1.9" />
<line x1="625.51" y1="716.30" x2="625.51" y2="721.80" stroke="#333333" stroke-width="1.9" />
<line x1="647.69" y1="716.30" x2="647.69" y2="721.80" stroke="#333333" stroke-width="1.9" />
<line x1="669.88" y1="716.30" x2="669.88" y2="726.30" stroke="#333333" stroke-width="1.9" />
<line x1="692.06" y1="716.30" x2="692.06" y2="721.80" stroke="#333333" stroke-width="1.9" />
<line x1="714.25" y1="716.30" x2="714.25" y2="721.80" stroke="#333333" stroke-width="1.9" />
<line x1="736.44" y1="716.30" x2="736.44" y2="721.80" stroke="#333333" stroke-width="1.9" />
<line x1="758.62" y1="716.30" x2="758.62" y2="726.30" stroke="#333333" stroke-width="1.9" />
<line x1="780.81" y1="716.30" x2="780.81" y2="721.80" stroke="#333333" stroke-width="1.9" />
<line x1="802.99" y1="716.30" x2="802.99" y2="721.80" stroke="#333333" stroke-width="1.9" />
<line x1="825.18" y1="716.30" x2="825.18" y2="721.80" stroke="#333333" stroke-width="1.9" />
<line x1="847.37" y1="716.30" x2="847.37" y2="726.30" stroke="#333333" stroke-width="1.9" />
<line x1="869.55" y1="716.30" x2="869.55" y2="721.80" stroke="#333333" stroke-width="1.9" />
<line x1="891.74" y1="716.30" x2="891.74" y2="721.80" stroke="#333333" stroke-width="1.9" />
<line x1="913.92" y1="716.30" x2="913.92" y2="721.80" stroke="#333333" stroke-width="1.9" />
<line x1="936.11" y1="716.30" x2="936.11" y2="726.30" stroke="#333333" stroke-width="1.9" />
<line x1="958.30" y1="716.30" x2="958.30" y2="721.80" stroke="#333333" stroke-width="1.9" />
<line x1="980.48" y1="716.30" x2="980.48" y2="721.80" stroke="#333333" stroke-width="1.9" />
<line x1="1002.67" y1="716.30" x2="1002.67" y2="721.80" stroke="#333333" stroke-width="1.9" />
<line x1="1024.85" y1="716.30" x2="1024.85" y2="726.30" stroke="#333333" stroke-width="1.9" />
<line x1="1047.04" y1="716.30" x2="1047.04" y2="721.80" stroke="#333333" stroke-width="1.9" />
<line x1="1069.23" y1="716.30" x2="1069.23" y2="721.80" stroke="#333333" stroke-width="1.9" />
<line x1="1091.41" y1="716.30" x2="1091.41" y2="721.80" stroke="#333333" stroke-width="1.9" />
<text x="226.16" y="751.60" font-family='"Liberation Serif", serif' font-size="25" font-weight="bold" fill="#333333" text-anchor="middle" >201809</text>
<text x="314.90" y="751.60" font-family='"Liberation Serif", serif' font-size="25" font-weight="bold" fill="#333333" text-anchor="middle" >201901</text>
<text x="403.65" y="751.60" font-family='"Liberation Serif", serif' font-size="25" font-weight="bold" fill="#333333" text-anchor="middle" >201905</text>
<text x="492.39" y="751.60" font-family='"Liberation Serif", serif' font-size="25" font-weight="bold" fill="#333333" text-anchor="middle" >201909</text>
<text x="581.13" y="751.60" font-family='"Liberation Serif", serif' font-size="25" font-weight="bold" fill="#333333" text-anchor="middle" >202001</text>
<text x="669.88" y="751.60" font-family='"Liberation Serif", serif' font-size="25" font-weight="bold" fill="#333333" text-anchor="middle" >202005</text>
<text x="758.62" y="751.60" font-family='"Liberation Serif", serif' font-size="25" font-weight="bold" fill="#333333" text-anchor="middle" >202009</text>
<text x="847.37" y="751.60" font-family='"Liberation Serif", serif' font-size="25" font-weight="bold" fill="#333333" text-anchor="middle" >202101</text>
<text x="936.11" y="751.60" font-family='"Liberation Serif", serif' font-size="25" font-weight="bold" fill="#333333" text-anchor="middle" >202105</text>
<text x="1024.85" y="751.60" font-family='"Liberation Serif", serif' font-size="25" font-weight="bold" fill="#333333" text-anchor="middle" >202109</text>
<text transform="translate(83.00,752.00) rotate(-90)" font-family='"Liberation Serif", serif' font-size="31" font-weight="bold" fill="#333333" text-anchor="start"><tspan font-size="18.5" dy="-16.30">210</tspan><tspan dy="16.30">Po activity (Bq L</tspan><tspan font-size="18.5" dy="-16.30">-1</tspan><tspan dy="16.30">)</tspan></text>
<text x="0.80" y="775.60" font-family='"Liberation Sans", sans-serif' font-size="28" font-weight="bold" fill="#000" text-anchor="start" >B</text>
<path d="M199,1213 L199,1203 Q211.1,1198.5 221,1196 Q211.1,1205.5 199,1213 Z" fill="#b9bdc0" opacity="0.8" filter="url(#blur2)"/>
<path d="M293,1212 L293,1198 Q308.4,1186.5 321,1177 Q308.4,1195.5 293,1212 Z" fill="#b9bdc0" opacity="0.8" filter="url(#blur2)"/>
<path d="M374,1212 L374,1196 Q389.4,1185.5 402,1177 Q389.4,1195.5 374,1212 Z" fill="#b9bdc0" opacity="0.8" filter="url(#blur2)"/>
<path d="M436,1162 L436,1151 Q464.1,1140.0 487,1131 Q464.1,1147.5 436,1162 Z" fill="#b9bdc0" opacity="0.8" filter="url(#blur2)"/>
<path d="M454,1196 L454,1187 Q478.2,1176.0 498,1167 Q478.2,1182.5 454,1196 Z" fill="#b9bdc0" opacity="0.8" filter="url(#blur2)"/>
<path d="M454,1214 L454,1206 Q465.0,1203.0 474,1202 Q465.0,1209.0 454,1214 Z" fill="#b9bdc0" opacity="0.8" filter="url(#blur2)"/>
<path d="M518,1212 L518,1203 Q529.0,1199.8 538,1198.5 Q529.0,1206.2 518,1212 Z" fill="#b9bdc0" opacity="0.8" filter="url(#blur2)"/>
<path d="M596,1212 L596,1200 Q632.3,1185.0 662,1172 Q632.3,1193.0 596,1212 Z" fill="#b9bdc0" opacity="0.8" filter="url(#blur2)"/>
<path d="M676,1212 L676,1207 Q683.1,1205.8 689,1206.5 Q683.1,1210.2 676,1212 Z" fill="#b9bdc0" opacity="0.8" filter="url(#blur2)"/>
<path d="M756,1213 L756,1209 Q762.0,1207.5 767,1208 Q762.0,1211.5 756,1213 Z" fill="#b9bdc0" opacity="0.8" filter="url(#blur2)"/>
<path d="M837,1213 L837,1190 Q882.6,1174.0 920,1160 Q882.6,1187.5 837,1213 Z" fill="#b9bdc0" opacity="0.8" filter="url(#blur2)"/>
<path d="M916,1212 L916,1200 Q935.8,1194.0 952,1190 Q935.8,1202.0 916,1212 Z" fill="#b9bdc0" opacity="0.8" filter="url(#blur2)"/>
<path d="M996,1212 L996,1205 Q1004.8,1203.2 1012,1203.5 Q1004.8,1208.8 996,1212 Z" fill="#b9bdc0" opacity="0.8" filter="url(#blur2)"/>
<path d="M1075,1212 L1075,1201 Q1088.8,1198.5 1100,1198 Q1088.8,1206.0 1075,1212 Z" fill="#b9bdc0" opacity="0.8" filter="url(#blur2)"/>
<polygon points="173.70,1179.93 174.50,1179.93 177.90,1177.16 177.90,1212.44 174.50,1215.20 173.70,1215.20" fill="#d03020"/>
<polygon points="161.50,1180.73 161.50,1179.93 164.90,1177.16 177.90,1177.16 177.90,1177.76 174.50,1180.73" fill="#f76a5c"/>
<rect x="161.50" y="1179.93" width="13.0" height="35.27" fill="url(#gf0)"/>
<polygon points="191.90,1135.72 192.70,1135.72 196.10,1130.75 196.10,1210.23 192.70,1215.20 191.90,1215.20" fill="#172b3a"/>
<polygon points="179.70,1136.52 179.70,1135.72 183.10,1130.75 196.10,1130.75 196.10,1131.35 192.70,1136.52" fill="#536a7b"/>
<rect x="179.70" y="1135.72" width="13.0" height="79.48" fill="url(#gf1)"/>
<polygon points="210.00,1211.63 210.80,1211.63 214.20,1210.45 214.20,1214.02 210.80,1215.20 210.00,1215.20" fill="#d99c14"/>
<polygon points="197.80,1212.43 197.80,1211.63 201.20,1210.45 214.20,1210.45 214.20,1211.05 210.80,1212.43" fill="#fdd064"/>
<rect x="197.80" y="1211.63" width="13.0" height="3.57" fill="url(#gf2)"/>
<polygon points="253.70,1125.90 254.50,1125.90 257.90,1120.44 257.90,1209.74 254.50,1215.20 253.70,1215.20" fill="#d03020"/>
<polygon points="241.50,1126.70 241.50,1125.90 244.90,1120.44 257.90,1120.44 257.90,1121.04 254.50,1126.70" fill="#f76a5c"/>
<rect x="241.50" y="1125.90" width="13.0" height="89.30" fill="url(#gf0)"/>
<polygon points="271.90,1045.53 272.70,1045.53 276.10,1036.05 276.10,1205.72 272.70,1215.20 271.90,1215.20" fill="#172b3a"/>
<polygon points="259.70,1046.33 259.70,1045.53 263.10,1036.05 276.10,1036.05 276.10,1036.65 272.70,1046.33" fill="#536a7b"/>
<rect x="259.70" y="1045.53" width="13.0" height="169.67" fill="url(#gf1)"/>
<polygon points="290.00,1191.54 290.80,1191.54 294.20,1189.35 294.20,1213.02 290.80,1215.20 290.00,1215.20" fill="#d99c14"/>
<polygon points="277.80,1192.34 277.80,1191.54 281.20,1189.35 294.20,1189.35 294.20,1189.95 290.80,1192.34" fill="#fdd064"/>
<rect x="277.80" y="1191.54" width="13.0" height="23.66" fill="url(#gf2)"/>
<polygon points="333.70,1074.55 334.50,1074.55 337.90,1066.52 337.90,1207.17 334.50,1215.20 333.70,1215.20" fill="#d03020"/>
<polygon points="321.50,1075.35 321.50,1074.55 324.90,1066.52 337.90,1066.52 337.90,1067.12 334.50,1075.35" fill="#f76a5c"/>
<rect x="321.50" y="1074.55" width="13.0" height="140.65" fill="url(#gf0)"/>
<polygon points="351.90,862.91 352.70,862.91 356.10,844.30 356.10,1196.59 352.70,1215.20 351.90,1215.20" fill="#172b3a"/>
<polygon points="339.70,863.71 339.70,862.91 343.10,844.30 356.10,844.30 356.10,844.90 352.70,863.71" fill="#536a7b"/>
<rect x="339.70" y="862.91" width="13.0" height="352.29" fill="url(#gf1)"/>
<polygon points="370.00,1075.89 370.80,1075.89 374.20,1067.93 374.20,1207.23 370.80,1215.20 370.00,1215.20" fill="#d99c14"/>
<polygon points="357.80,1076.69 357.80,1075.89 361.20,1067.93 374.20,1067.93 374.20,1068.53 370.80,1076.69" fill="#fdd064"/>
<rect x="357.80" y="1075.89" width="13.0" height="139.31" fill="url(#gf2)"/>
<polygon points="413.70,1142.87 414.50,1142.87 417.90,1138.25 417.90,1210.58 414.50,1215.20 413.70,1215.20" fill="#d03020"/>
<polygon points="401.50,1143.67 401.50,1142.87 404.90,1138.25 417.90,1138.25 417.90,1138.85 414.50,1143.67" fill="#f76a5c"/>
<rect x="401.50" y="1142.87" width="13.0" height="72.33" fill="url(#gf0)"/>
<polygon points="431.90,1020.08 432.70,1020.08 436.10,1009.32 436.10,1204.44 432.70,1215.20 431.90,1215.20" fill="#172b3a"/>
<polygon points="419.70,1020.88 419.70,1020.08 423.10,1009.32 436.10,1009.32 436.10,1009.92 432.70,1020.88" fill="#536a7b"/>
<rect x="419.70" y="1020.08" width="13.0" height="195.12" fill="url(#gf1)"/>
<polygon points="450.00,1161.17 450.80,1161.17 454.20,1157.47 454.20,1211.50 450.80,1215.20 450.00,1215.20" fill="#d99c14"/>
<polygon points="437.80,1161.97 437.80,1161.17 441.20,1157.47 454.20,1157.47 454.20,1158.07 450.80,1161.97" fill="#fdd064"/>
<rect x="437.80" y="1161.17" width="13.0" height="54.03" fill="url(#gf2)"/>
<polygon points="493.70,1182.61 494.50,1182.61 497.90,1179.98 497.90,1212.57 494.50,1215.20 493.70,1215.20" fill="#d03020"/>
<polygon points="481.50,1183.41 481.50,1182.61 484.90,1179.98 497.90,1179.98 497.90,1180.58 494.50,1183.41" fill="#f76a5c"/>
<rect x="481.50" y="1182.61" width="13.0" height="32.59" fill="url(#gf0)"/>
<polygon points="511.90,1149.12 512.70,1149.12 516.10,1144.81 516.10,1210.90 512.70,1215.20 511.90,1215.20" fill="#172b3a"/>
<polygon points="499.70,1149.92 499.70,1149.12 503.10,1144.81 516.10,1144.81 516.10,1145.41 512.70,1149.92" fill="#536a7b"/>
<rect x="499.70" y="1149.12" width="13.0" height="66.08" fill="url(#gf1)"/>
<polygon points="530.00,1212.52 530.80,1212.52 534.20,1211.39 534.20,1214.07 530.80,1215.20 530.00,1215.20" fill="#d99c14"/>
<polygon points="517.80,1213.32 517.80,1212.52 521.20,1211.39 534.20,1211.39 534.20,1211.99 530.80,1213.32" fill="#fdd064"/>
<rect x="517.80" y="1212.52" width="13.0" height="2.68" fill="url(#gf2)"/>
<polygon points="573.70,1142.42 574.50,1142.42 577.90,1137.78 577.90,1210.56 574.50,1215.20 573.70,1215.20" fill="#d03020"/>
<polygon points="561.50,1143.22 561.50,1142.42 564.90,1137.78 577.90,1137.78 577.90,1138.38 574.50,1143.22" fill="#f76a5c"/>
<rect x="561.50" y="1142.42" width="13.0" height="72.78" fill="url(#gf0)"/>
<polygon points="591.90,1030.35 592.70,1030.35 596.10,1020.11 596.10,1204.96 592.70,1215.20 591.90,1215.20" fill="#172b3a"/>
<polygon points="579.70,1031.15 579.70,1030.35 583.10,1020.11 596.10,1020.11 596.10,1020.71 592.70,1031.15" fill="#536a7b"/>
<rect x="579.70" y="1030.35" width="13.0" height="184.85" fill="url(#gf1)"/>
<polygon points="610.00,1209.62 610.80,1209.62 614.20,1208.34 614.20,1213.92 610.80,1215.20 610.00,1215.20" fill="#d99c14"/>
<polygon points="597.80,1210.42 597.80,1209.62 601.20,1208.34 614.20,1208.34 614.20,1208.94 610.80,1210.42" fill="#fdd064"/>
<rect x="597.80" y="1209.62" width="13.0" height="5.58" fill="url(#gf2)"/>
<polygon points="653.70,1205.38 654.50,1205.38 657.90,1203.89 657.90,1213.71 654.50,1215.20 653.70,1215.20" fill="#d03020"/>
<polygon points="641.50,1206.18 641.50,1205.38 644.90,1203.89 657.90,1203.89 657.90,1204.49 654.50,1206.18" fill="#f76a5c"/>
<rect x="641.50" y="1205.38" width="13.0" height="9.82" fill="url(#gf0)"/>
<polygon points="671.90,1184.84 672.70,1184.84 676.10,1182.32 676.10,1212.68 672.70,1215.20 671.90,1215.20" fill="#172b3a"/>
<polygon points="659.70,1185.64 659.70,1184.84 663.10,1182.32 676.10,1182.32 676.10,1182.92 672.70,1185.64" fill="#536a7b"/>
<rect x="659.70" y="1184.84" width="13.0" height="30.36" fill="url(#gf1)"/>
<polygon points="690.00,1211.18 690.80,1211.18 694.20,1209.98 694.20,1214.00 690.80,1215.20 690.00,1215.20" fill="#d99c14"/>
<polygon points="677.80,1211.98 677.80,1211.18 681.20,1209.98 694.20,1209.98 694.20,1210.58 690.80,1211.98" fill="#fdd064"/>
<rect x="677.80" y="1211.18" width="13.0" height="4.02" fill="url(#gf2)"/>
<polygon points="733.70,1201.36 734.50,1201.36 737.90,1199.67 737.90,1213.51 734.50,1215.20 733.70,1215.20" fill="#d03020"/>
<polygon points="721.50,1202.16 721.50,1201.36 724.90,1199.67 737.90,1199.67 737.90,1200.27 734.50,1202.16" fill="#f76a5c"/>
<rect x="721.50" y="1201.36" width="13.0" height="13.84" fill="url(#gf0)"/>
<polygon points="751.90,1185.73 752.70,1185.73 756.10,1183.26 756.10,1212.73 752.70,1215.20 751.90,1215.20" fill="#172b3a"/>
<polygon points="739.70,1186.53 739.70,1185.73 743.10,1183.26 756.10,1183.26 756.10,1183.86 752.70,1186.53" fill="#536a7b"/>
<rect x="739.70" y="1185.73" width="13.0" height="29.47" fill="url(#gf1)"/>
<polygon points="770.00,1213.41 770.80,1213.41 774.20,1212.32 774.20,1214.11 770.80,1215.20 770.00,1215.20" fill="#d99c14"/>
<polygon points="757.80,1214.21 757.80,1213.41 761.20,1212.32 774.20,1212.32 774.20,1212.92 770.80,1214.21" fill="#fdd064"/>
<rect x="757.80" y="1213.41" width="13.0" height="1.79" fill="url(#gf2)"/>
<polygon points="813.70,1085.72 814.50,1085.72 817.90,1078.24 817.90,1207.73 814.50,1215.20 813.70,1215.20" fill="#d03020"/>
<polygon points="801.50,1086.52 801.50,1085.72 804.90,1078.24 817.90,1078.24 817.90,1078.84 814.50,1086.52" fill="#f76a5c"/>
<rect x="801.50" y="1085.72" width="13.0" height="129.48" fill="url(#gf0)"/>
<polygon points="831.90,986.59 832.70,986.59 836.10,974.16 836.10,1202.77 832.70,1215.20 831.90,1215.20" fill="#172b3a"/>
<polygon points="819.70,987.39 819.70,986.59 823.10,974.16 836.10,974.16 836.10,974.76 832.70,987.39" fill="#536a7b"/>
<rect x="819.70" y="986.59" width="13.0" height="228.61" fill="url(#gf1)"/>
<polygon points="850.00,1213.41 850.80,1213.41 854.20,1212.32 854.20,1214.11 850.80,1215.20 850.00,1215.20" fill="#d99c14"/>
<polygon points="837.80,1214.21 837.80,1213.41 841.20,1212.32 854.20,1212.32 854.20,1212.92 850.80,1214.21" fill="#fdd064"/>
<rect x="837.80" y="1213.41" width="13.0" height="1.79" fill="url(#gf2)"/>
<polygon points="893.70,1175.02 894.50,1175.02 897.90,1172.01 897.90,1212.19 894.50,1215.20 893.70,1215.20" fill="#d03020"/>
<polygon points="881.50,1175.82 881.50,1175.02 884.90,1172.01 897.90,1172.01 897.90,1172.61 894.50,1175.82" fill="#f76a5c"/>
<rect x="881.50" y="1175.02" width="13.0" height="40.18" fill="url(#gf0)"/>
<polygon points="911.90,1111.61 912.70,1111.61 916.10,1105.43 916.10,1209.02 912.70,1215.20 911.90,1215.20" fill="#172b3a"/>
<polygon points="899.70,1112.41 899.70,1111.61 903.10,1105.43 916.10,1105.43 916.10,1106.03 912.70,1112.41" fill="#536a7b"/>
<rect x="899.70" y="1111.61" width="13.0" height="103.59" fill="url(#gf1)"/>
<polygon points="930.00,1213.86 930.80,1213.86 934.20,1212.79 934.20,1214.13 930.80,1215.20 930.00,1215.20" fill="#d99c14"/>
<polygon points="917.80,1214.66 917.80,1213.86 921.20,1212.79 934.20,1212.79 934.20,1213.39 930.80,1214.66" fill="#fdd064"/>
<rect x="917.80" y="1213.86" width="13.0" height="1.34" fill="url(#gf2)"/>
<polygon points="973.70,1200.02 974.50,1200.02 977.90,1198.26 977.90,1213.44 974.50,1215.20 973.70,1215.20" fill="#d03020"/>
<polygon points="961.50,1200.82 961.50,1200.02 964.90,1198.26 977.90,1198.26 977.90,1198.86 974.50,1200.82" fill="#f76a5c"/>
<rect x="961.50" y="1200.02" width="13.0" height="15.18" fill="url(#gf0)"/>
<polygon points="991.90,1163.85 992.70,1163.85 996.10,1160.29 996.10,1211.63 992.70,1215.20 991.90,1215.20" fill="#172b3a"/>
<polygon points="979.70,1164.65 979.70,1163.85 983.10,1160.29 996.10,1160.29 996.10,1160.89 992.70,1164.65" fill="#536a7b"/>
<rect x="979.70" y="1163.85" width="13.0" height="51.35" fill="url(#gf1)"/>
<polygon points="1010.00,1213.86 1010.80,1213.86 1014.20,1212.79 1014.20,1214.13 1010.80,1215.20 1010.00,1215.20" fill="#d99c14"/>
<polygon points="997.80,1214.66 997.80,1213.86 1001.20,1212.79 1014.20,1212.79 1014.20,1213.39 1010.80,1214.66" fill="#fdd064"/>
<rect x="997.80" y="1213.86" width="13.0" height="1.34" fill="url(#gf2)"/>
<polygon points="1053.70,1187.52 1054.50,1187.52 1057.90,1185.13 1057.90,1212.82 1054.50,1215.20 1053.70,1215.20" fill="#d03020"/>
<polygon points="1041.50,1188.32 1041.50,1187.52 1044.90,1185.13 1057.90,1185.13 1057.90,1185.73 1054.50,1188.32" fill="#f76a5c"/>
<rect x="1041.50" y="1187.52" width="13.0" height="27.68" fill="url(#gf0)"/>
<polygon points="1071.90,1141.08 1072.70,1141.08 1076.10,1136.38 1076.10,1210.49 1072.70,1215.20 1071.90,1215.20" fill="#172b3a"/>
<polygon points="1059.70,1141.88 1059.70,1141.08 1063.10,1136.38 1076.10,1136.38 1076.10,1136.98 1072.70,1141.88" fill="#536a7b"/>
<rect x="1059.70" y="1141.08" width="13.0" height="74.12" fill="url(#gf1)"/>
<polygon points="1090.00,1206.27 1090.80,1206.27 1094.20,1204.82 1094.20,1213.75 1090.80,1215.20 1090.00,1215.20" fill="#d99c14"/>
<polygon points="1077.80,1207.07 1077.80,1206.27 1081.20,1204.82 1094.20,1204.82 1094.20,1205.42 1090.80,1207.07" fill="#fdd064"/>
<rect x="1077.80" y="1206.27" width="13.0" height="8.93" fill="url(#gf2)"/>
<line x1="147.50" y1="768.50" x2="1107.00" y2="768.50" stroke="#444" stroke-width="1.4" />
<line x1="1107.00" y1="768.50" x2="1107.00" y2="1223.50" stroke="#777" stroke-width="1.5" />
<line x1="147.50" y1="768.50" x2="147.50" y2="1216.00" stroke="#444" stroke-width="1.4" />
<line x1="147.50" y1="1215.20" x2="1107.00" y2="1215.20" stroke="#444" stroke-width="1.5" />
<line x1="139.20" y1="1215.20" x2="147.50" y2="1215.20" stroke="#444" stroke-width="1.4" />
<text transform="translate(134.30,1221.70) scale(1.11,1)" font-family='"Liberation Serif", serif' font-size="19.4" font-weight="bold" fill="#000" text-anchor="end" >0.0</text>
<line x1="139.20" y1="1125.90" x2="147.50" y2="1125.90" stroke="#444" stroke-width="1.4" />
<text transform="translate(134.30,1132.40) scale(1.11,1)" font-family='"Liberation Serif", serif' font-size="19.4" font-weight="bold" fill="#000" text-anchor="end" >0.2</text>
<line x1="139.20" y1="1036.60" x2="147.50" y2="1036.60" stroke="#444" stroke-width="1.4" />
<text transform="translate(134.30,1043.10) scale(1.11,1)" font-family='"Liberation Serif", serif' font-size="19.4" font-weight="bold" fill="#000" text-anchor="end" >0.4</text>
<line x1="139.20" y1="947.30" x2="147.50" y2="947.30" stroke="#444" stroke-width="1.4" />
<text transform="translate(134.30,953.80) scale(1.11,1)" font-family='"Liberation Serif", serif' font-size="19.4" font-weight="bold" fill="#000" text-anchor="end" >0.6</text>
<line x1="139.20" y1="858.00" x2="147.50" y2="858.00" stroke="#444" stroke-width="1.4" />
<text transform="translate(134.30,864.50) scale(1.11,1)" font-family='"Liberation Serif", serif' font-size="19.4" font-weight="bold" fill="#000" text-anchor="end" >0.8</text>
<line x1="139.20" y1="768.70" x2="147.50" y2="768.70" stroke="#444" stroke-width="1.4" />
<text transform="translate(134.30,775.20) scale(1.11,1)" font-family='"Liberation Serif", serif' font-size="19.4" font-weight="bold" fill="#000" text-anchor="end" >1.0</text>
<line x1="147.50" y1="1215.20" x2="147.50" y2="1223.50" stroke="#444" stroke-width="1.4" />
<line x1="227.50" y1="1215.20" x2="227.50" y2="1223.50" stroke="#444" stroke-width="1.4" />
<line x1="307.50" y1="1215.20" x2="307.50" y2="1223.50" stroke="#444" stroke-width="1.4" />
<line x1="387.50" y1="1215.20" x2="387.50" y2="1223.50" stroke="#444" stroke-width="1.4" />
<line x1="467.50" y1="1215.20" x2="467.50" y2="1223.50" stroke="#444" stroke-width="1.4" />
<line x1="547.50" y1="1215.20" x2="547.50" y2="1223.50" stroke="#444" stroke-width="1.4" />
<line x1="627.50" y1="1215.20" x2="627.50" y2="1223.50" stroke="#444" stroke-width="1.4" />
<line x1="707.50" y1="1215.20" x2="707.50" y2="1223.50" stroke="#444" stroke-width="1.4" />
<line x1="787.50" y1="1215.20" x2="787.50" y2="1223.50" stroke="#444" stroke-width="1.4" />
<line x1="867.50" y1="1215.20" x2="867.50" y2="1223.50" stroke="#444" stroke-width="1.4" />
<line x1="947.50" y1="1215.20" x2="947.50" y2="1223.50" stroke="#444" stroke-width="1.4" />
<line x1="1027.50" y1="1215.20" x2="1027.50" y2="1223.50" stroke="#444" stroke-width="1.4" />
<line x1="1107.50" y1="1215.20" x2="1107.50" y2="1223.50" stroke="#444" stroke-width="1.4" />
<text x="0.00" y="0.00" font-family='"Liberation Serif", serif' font-size="21.6" font-weight="bold" fill="#000" text-anchor="start" transform="translate(85.2,1097) rotate(-90)"><tspan dy="0.00">Activity (Bq/m</tspan><tspan font-size="10" dy="-3.60">3</tspan><tspan dy="3.60">)</tspan></text>
<rect x="852.8" y="800" width="13.7" height="13.3" fill="url(#gf0)"/>
<rect x="937.3" y="800" width="10.4" height="13.3" fill="url(#gf1)"/>
<rect x="999.2" y="800" width="12.8" height="13.3" fill="url(#gf2)"/>
<text x="0.00" y="0.00" font-family='"Liberation Serif", serif' font-size="16.5" font-weight="bold" fill="#000" text-anchor="start" transform="translate(878,813.2) scale(1.1,1)"><tspan font-size="11" dy="-5.20">210</tspan><tspan dy="5.20">Pb</tspan></text>
<text x="0.00" y="0.00" font-family='"Liberation Serif", serif' font-size="16.5" font-weight="bold" fill="#000" text-anchor="start" transform="translate(960.5,813.2) scale(1.1,1)"><tspan font-size="11" dy="-5.20">7</tspan><tspan dy="5.20">Be</tspan></text>
<text x="0.00" y="0.00" font-family='"Liberation Serif", serif' font-size="16.5" font-weight="bold" fill="#000" text-anchor="start" transform="translate(1027,813.2) scale(1.1,1)"><tspan font-size="11" dy="-5.20">210</tspan><tspan dy="5.20">Po</tspan></text>
<text x="187.50" y="1249.30" font-family='"Liberation Serif", serif' font-size="20.5" font-weight="bold" fill="#000" text-anchor="middle" letter-spacing="0.5">Summer</text>
<text x="267.50" y="1249.30" font-family='"Liberation Serif", serif' font-size="20.5" font-weight="bold" fill="#000" text-anchor="middle" letter-spacing="0.5">Fall</text>
<text x="347.50" y="1249.30" font-family='"Liberation Serif", serif' font-size="20.5" font-weight="bold" fill="#000" text-anchor="middle" letter-spacing="0.5">Winter</text>
<text x="427.50" y="1249.30" font-family='"Liberation Serif", serif' font-size="20.5" font-weight="bold" fill="#000" text-anchor="middle" letter-spacing="0.5">Spring</text>
<text x="507.50" y="1249.30" font-family='"Liberation Serif", serif' font-size="20.5" font-weight="bold" fill="#000" text-anchor="middle" letter-spacing="0.5">Summer</text>
<text x="587.50" y="1249.30" font-family='"Liberation Serif", serif' font-size="20.5" font-weight="bold" fill="#000" text-anchor="middle" letter-spacing="0.5">Fall</text>
<text x="667.50" y="1249.30" font-family='"Liberation Serif", serif' font-size="20.5" font-weight="bold" fill="#000" text-anchor="middle" letter-spacing="0.5">Summer</text>
<text x="747.50" y="1249.30" font-family='"Liberation Serif", serif' font-size="20.5" font-weight="bold" fill="#000" text-anchor="middle" letter-spacing="0.5">Fall</text>
<text x="827.50" y="1249.30" font-family='"Liberation Serif", serif' font-size="20.5" font-weight="bold" fill="#000" text-anchor="middle" letter-spacing="0.5">Winter</text>
<text x="907.50" y="1249.30" font-family='"Liberation Serif", serif' font-size="20.5" font-weight="bold" fill="#000" text-anchor="middle" letter-spacing="0.5">Spring</text>
<text x="987.50" y="1249.30" font-family='"Liberation Serif", serif' font-size="20.5" font-weight="bold" fill="#000" text-anchor="middle" letter-spacing="0.5">Summer</text>
<text x="1067.50" y="1249.30" font-family='"Liberation Serif", serif' font-size="20.5" font-weight="bold" fill="#000" text-anchor="middle" letter-spacing="0.5">Fall</text>
<path d="M148.5,1257.5 Q150.0,1270.0 159.5,1270.0 L374.5,1270.0 Q384.0,1270.0 385.5,1257.5" fill="none" stroke="#000" stroke-width="2.3"/>
<path d="M390.0,1257.5 Q391.5,1270.0 401.0,1270.0 L607.6,1270.0 Q617.1,1270.0 618.6,1257.5" fill="none" stroke="#000" stroke-width="2.3"/>
<path d="M623.8,1257.5 Q625.3,1270.0 634.8,1270.0 L853.3,1270.0 Q862.8,1270.0 864.3,1257.5" fill="none" stroke="#000" stroke-width="2.3"/>
<path d="M869.2,1257.5 Q870.7,1270.0 880.2,1270.0 L1087.6,1270.0 Q1097.1,1270.0 1098.6,1257.5" fill="none" stroke="#000" stroke-width="2.3"/>
<text transform="translate(252.60,1301.20) scale(1.09,1)" font-family='"Liberation Serif", serif' font-size="25" font-weight="bold" fill="#000" text-anchor="middle" >2018</text>
<text transform="translate(498.50,1304.30) scale(1.09,1)" font-family='"Liberation Serif", serif' font-size="25" font-weight="bold" fill="#000" text-anchor="middle" >2019</text>
<text transform="translate(746.00,1304.30) scale(1.09,1)" font-family='"Liberation Serif", serif' font-size="25" font-weight="bold" fill="#000" text-anchor="middle" >2020</text>
<text transform="translate(991.60,1304.20) scale(1.09,1)" font-family='"Liberation Serif", serif' font-size="25" font-weight="bold" fill="#000" text-anchor="middle" >2021</text>
<line x1="1109.30" y1="1224.00" x2="1109.30" y2="1316.00" stroke="#ececec" stroke-width="1" />
<text x="1.20" y="1322.60" font-family='"Liberation Sans", sans-serif' font-size="28" font-weight="bold" fill="#000" text-anchor="start" >C</text>
<g clip-path="url(#clipC)">
<path d="M168.60,1676.04L170.15,1676.26M182.69,1687.98L200.76,1774.72M210.62,1777.88L217.53,1771.52M235.58,1766.29L237.27,1766.61M254.14,1776.72L263.41,1788.38M272.74,1786.48L289.51,1725.52M294.69,1725.62L312.26,1800.78M315.96,1800.58L335.69,1643.22M343.22,1624.34L353.13,1610.86M362.58,1612.39L378.47,1661.61M384.12,1681.82L401.63,1755.58M405.66,1755.42L424.79,1632.28M427.34,1632.36L447.81,1859.14M449.68,1859.14L470.17,1629.96M475.59,1628.99L488.96,1657.31M503.78,1668.69L505.47,1669.01M517.22,1681.30L536.73,1823.90M539.79,1823.93L558.86,1703.47M698.50,1658.35L713.05,1622.05M718.20,1601.87L738.05,1435.63M740.13,1435.67L760.82,1698.13M766.14,1718.09L779.51,1746.31M786.56,1745.62L803.79,1676.98M807.55,1677.23L827.50,1851.27M838.56,1858.08L841.19,1857.12M851.97,1843.04L872.48,1610.46M874.97,1610.38L894.18,1737.62M897.93,1737.73L915.92,1653.07M928.13,1639.70L930.42,1639.00M943.44,1625.83L959.81,1570.67M964.96,1570.87L982.99,1656.53M986.88,1656.44L1005.77,1543.16M1016.02,1526.66L1021.33,1522.84M1031.26,1527.11L1050.79,1671.79M1054.45,1692.46L1072.30,1773.64M1077.02,1773.69L1094.43,1701.61" stroke="#008000" stroke-width="2.1" fill="none"/>
<circle cx="158.20" cy="1674.60" r="8.1" fill="#008000"/>
<circle cx="180.55" cy="1677.70" r="8.1" fill="#008000"/>
<circle cx="202.90" cy="1785.00" r="8.1" fill="#008000"/>
<circle cx="225.25" cy="1764.40" r="8.1" fill="#008000"/>
<circle cx="247.60" cy="1768.50" r="8.1" fill="#008000"/>
<circle cx="269.95" cy="1796.60" r="8.1" fill="#008000"/>
<circle cx="292.30" cy="1715.40" r="8.1" fill="#008000"/>
<circle cx="314.65" cy="1811.00" r="8.1" fill="#008000"/>
<circle cx="337.00" cy="1632.80" r="8.1" fill="#008000"/>
<circle cx="359.35" cy="1602.40" r="8.1" fill="#008000"/>
<circle cx="381.70" cy="1671.60" r="8.1" fill="#008000"/>
<circle cx="404.05" cy="1765.80" r="8.1" fill="#008000"/>
<circle cx="426.40" cy="1621.90" r="8.1" fill="#008000"/>
<circle cx="448.75" cy="1869.60" r="8.1" fill="#008000"/>
<circle cx="471.10" cy="1619.50" r="8.1" fill="#008000"/>
<circle cx="493.45" cy="1666.80" r="8.1" fill="#008000"/>
<circle cx="515.80" cy="1670.90" r="8.1" fill="#008000"/>
<circle cx="538.15" cy="1834.30" r="8.1" fill="#008000"/>
<circle cx="560.50" cy="1693.10" r="8.1" fill="#008000"/>
<circle cx="694.60" cy="1668.10" r="8.1" fill="#008000"/>
<circle cx="716.95" cy="1612.30" r="8.1" fill="#008000"/>
<circle cx="739.30" cy="1425.20" r="8.1" fill="#008000"/>
<circle cx="761.65" cy="1708.60" r="8.1" fill="#008000"/>
<circle cx="784.00" cy="1755.80" r="8.1" fill="#008000"/>
<circle cx="806.35" cy="1666.80" r="8.1" fill="#008000"/>
<circle cx="828.70" cy="1861.70" r="8.1" fill="#008000"/>
<circle cx="851.05" cy="1853.50" r="8.1" fill="#008000"/>
<circle cx="873.40" cy="1600.00" r="8.1" fill="#008000"/>
<circle cx="895.75" cy="1748.00" r="8.1" fill="#008000"/>
<circle cx="918.10" cy="1642.80" r="8.1" fill="#008000"/>
<circle cx="940.45" cy="1635.90" r="8.1" fill="#008000"/>
<circle cx="962.80" cy="1560.60" r="8.1" fill="#008000"/>
<circle cx="985.15" cy="1666.80" r="8.1" fill="#008000"/>
<circle cx="1007.50" cy="1532.80" r="8.1" fill="#008000"/>
<circle cx="1029.85" cy="1516.70" r="8.1" fill="#008000"/>
<circle cx="1052.20" cy="1682.20" r="8.1" fill="#008000"/>
<circle cx="1074.55" cy="1783.90" r="8.1" fill="#008000"/>
<circle cx="1096.90" cy="1691.40" r="8.1" fill="#008000"/>
<path d="M160.34,1989.52L178.41,1902.78M182.60,1902.80L200.85,1994.60M205.57,1994.75L222.58,1930.05M234.96,1915.90L237.89,1914.70M253.62,1902.10L263.93,1887.40M273.58,1868.95L288.67,1828.05M293.20,1807.74L313.75,1568.26M316.36,1547.44L335.29,1432.86M338.25,1432.93L358.10,1598.77M361.50,1619.48L379.55,1705.82M387.16,1707.13L398.59,1688.37M405.44,1689.81L425.01,1836.09M427.65,1856.92L447.50,2021.78M450.80,2021.90L469.05,1930.20M473.24,1930.18L491.31,2016.92M498.47,2017.98L510.78,1995.32M518.81,1976.04L535.14,1921.46M544.69,1903.18L553.96,1891.52M696.11,1878.01L715.44,1744.59M727.28,1732.31L728.97,1731.99M740.44,1740.54L760.51,1924.26M767.02,1943.73L778.63,1963.27M785.19,1961.87L805.16,1786.83M807.26,1786.86L827.79,2021.74M839.20,2032.20L840.55,2032.20M859.88,2026.51L864.57,2023.49M882.23,2023.49L886.92,2026.51M904.41,2026.27L909.44,2022.83M926.76,2022.83L931.79,2026.27M944.09,2022.35L959.16,1981.55M967.45,1981.11L980.50,2007.49M987.42,2006.65L1005.23,1926.05M1009.41,1905.48L1027.94,1805.52M1035.70,1803.92L1046.35,1819.78M1053.64,1838.90L1073.11,1979.10M1084.93,1987.92L1086.52,1987.68" stroke="#ff8300" stroke-width="2.1" fill="none"/>
<polygon points="158.20,1989.80 168.20,1999.80 158.20,2009.80 148.20,1999.80" fill="#ff8300"/>
<polygon points="180.55,1882.50 190.55,1892.50 180.55,1902.50 170.55,1892.50" fill="#ff8300"/>
<polygon points="202.90,1994.90 212.90,2004.90 202.90,2014.90 192.90,2004.90" fill="#ff8300"/>
<polygon points="225.25,1909.90 235.25,1919.90 225.25,1929.90 215.25,1919.90" fill="#ff8300"/>
<polygon points="247.60,1900.70 257.60,1910.70 247.60,1920.70 237.60,1910.70" fill="#ff8300"/>
<polygon points="269.95,1868.80 279.95,1878.80 269.95,1888.80 259.95,1878.80" fill="#ff8300"/>
<polygon points="292.30,1808.20 302.30,1818.20 292.30,1828.20 282.30,1818.20" fill="#ff8300"/>
<polygon points="314.65,1547.80 324.65,1557.80 314.65,1567.80 304.65,1557.80" fill="#ff8300"/>
<polygon points="337.00,1412.50 347.00,1422.50 337.00,1432.50 327.00,1422.50" fill="#ff8300"/>
<polygon points="359.35,1599.20 369.35,1609.20 359.35,1619.20 349.35,1609.20" fill="#ff8300"/>
<polygon points="381.70,1706.10 391.70,1716.10 381.70,1726.10 371.70,1716.10" fill="#ff8300"/>
<polygon points="404.05,1669.40 414.05,1679.40 404.05,1689.40 394.05,1679.40" fill="#ff8300"/>
<polygon points="426.40,1836.50 436.40,1846.50 426.40,1856.50 416.40,1846.50" fill="#ff8300"/>
<polygon points="448.75,2022.20 458.75,2032.20 448.75,2042.20 438.75,2032.20" fill="#ff8300"/>
<polygon points="471.10,1909.90 481.10,1919.90 471.10,1929.90 461.10,1919.90" fill="#ff8300"/>
<polygon points="493.45,2017.20 503.45,2027.20 493.45,2037.20 483.45,2027.20" fill="#ff8300"/>
<polygon points="515.80,1976.10 525.80,1986.10 515.80,1996.10 505.80,1986.10" fill="#ff8300"/>
<polygon points="538.15,1901.40 548.15,1911.40 538.15,1921.40 528.15,1911.40" fill="#ff8300"/>
<polygon points="560.50,1873.30 570.50,1883.30 560.50,1893.30 550.50,1883.30" fill="#ff8300"/>
<polygon points="694.60,1878.40 704.60,1888.40 694.60,1898.40 684.60,1888.40" fill="#ff8300"/>
<polygon points="716.95,1724.20 726.95,1734.20 716.95,1744.20 706.95,1734.20" fill="#ff8300"/>
<polygon points="739.30,1720.10 749.30,1730.10 739.30,1740.10 729.30,1730.10" fill="#ff8300"/>
<polygon points="761.65,1924.70 771.65,1934.70 761.65,1944.70 751.65,1934.70" fill="#ff8300"/>
<polygon points="784.00,1962.30 794.00,1972.30 784.00,1982.30 774.00,1972.30" fill="#ff8300"/>
<polygon points="806.35,1766.40 816.35,1776.40 806.35,1786.40 796.35,1776.40" fill="#ff8300"/>
<polygon points="828.70,2022.20 838.70,2032.20 828.70,2042.20 818.70,2032.20" fill="#ff8300"/>
<polygon points="851.05,2022.20 861.05,2032.20 851.05,2042.20 841.05,2032.20" fill="#ff8300"/>
<polygon points="873.40,2007.80 883.40,2017.80 873.40,2027.80 863.40,2017.80" fill="#ff8300"/>
<polygon points="895.75,2022.20 905.75,2032.20 895.75,2042.20 885.75,2032.20" fill="#ff8300"/>
<polygon points="918.10,2006.90 928.10,2016.90 918.10,2026.90 908.10,2016.90" fill="#ff8300"/>
<polygon points="940.45,2022.20 950.45,2032.20 940.45,2042.20 930.45,2032.20" fill="#ff8300"/>
<polygon points="962.80,1961.70 972.80,1971.70 962.80,1981.70 952.80,1971.70" fill="#ff8300"/>
<polygon points="985.15,2006.90 995.15,2016.90 985.15,2026.90 975.15,2016.90" fill="#ff8300"/>
<polygon points="1007.50,1905.80 1017.50,1915.80 1007.50,1925.80 997.50,1915.80" fill="#ff8300"/>
<polygon points="1029.85,1785.20 1039.85,1795.20 1029.85,1805.20 1019.85,1795.20" fill="#ff8300"/>
<polygon points="1052.20,1818.50 1062.20,1828.50 1052.20,1838.50 1042.20,1828.50" fill="#ff8300"/>
<polygon points="1074.55,1979.50 1084.55,1989.50 1074.55,1999.50 1064.55,1989.50" fill="#ff8300"/>
<polygon points="1096.90,1976.10 1106.90,1986.10 1096.90,1996.10 1086.90,1986.10" fill="#ff8300"/>
</g>
<line x1="146.50" y1="1334.80" x2="1109.50" y2="1334.80" stroke="#000" stroke-width="2.4" />
<line x1="147.40" y1="1333.60" x2="147.40" y2="2032.20" stroke="#008000" stroke-width="2.4" />
<line x1="1108.50" y1="1333.60" x2="1108.50" y2="2032.20" stroke="#ff8300" stroke-width="2.4" />
<line x1="146.20" y1="2032.20" x2="1109.70" y2="2032.20" stroke="#000" stroke-width="2.6" />
<line x1="137.60" y1="2032.20" x2="147.40" y2="2032.20" stroke="#008000" stroke-width="2.2" />
<text x="131.20" y="2040.60" font-family='"Liberation Serif", serif' font-size="25" font-weight="bold" fill="#008000" text-anchor="end" >0.0</text>
<line x1="142.30" y1="1962.46" x2="147.40" y2="1962.46" stroke="#008000" stroke-width="2.2" />
<line x1="137.60" y1="1892.72" x2="147.40" y2="1892.72" stroke="#008000" stroke-width="2.2" />
<text x="131.20" y="1901.12" font-family='"Liberation Serif", serif' font-size="25" font-weight="bold" fill="#008000" text-anchor="end" >1.0</text>
<line x1="142.30" y1="1822.98" x2="147.40" y2="1822.98" stroke="#008000" stroke-width="2.2" />
<line x1="137.60" y1="1753.24" x2="147.40" y2="1753.24" stroke="#008000" stroke-width="2.2" />
<text x="131.20" y="1761.64" font-family='"Liberation Serif", serif' font-size="25" font-weight="bold" fill="#008000" text-anchor="end" >2.0</text>
<line x1="142.30" y1="1683.50" x2="147.40" y2="1683.50" stroke="#008000" stroke-width="2.2" />
<line x1="137.60" y1="1613.76" x2="147.40" y2="1613.76" stroke="#008000" stroke-width="2.2" />
<text x="131.20" y="1622.16" font-family='"Liberation Serif", serif' font-size="25" font-weight="bold" fill="#008000" text-anchor="end" >3.0</text>
<line x1="142.30" y1="1544.02" x2="147.40" y2="1544.02" stroke="#008000" stroke-width="2.2" />
<line x1="137.60" y1="1474.28" x2="147.40" y2="1474.28" stroke="#008000" stroke-width="2.2" />
<text x="131.20" y="1482.68" font-family='"Liberation Serif", serif' font-size="25" font-weight="bold" fill="#008000" text-anchor="end" >4.0</text>
<line x1="142.30" y1="1404.54" x2="147.40" y2="1404.54" stroke="#008000" stroke-width="2.2" />
<line x1="137.60" y1="1334.80" x2="147.40" y2="1334.80" stroke="#008000" stroke-width="2.2" />
<text x="131.20" y="1343.20" font-family='"Liberation Serif", serif' font-size="25" font-weight="bold" fill="#008000" text-anchor="end" >5.0</text>
<line x1="1108.50" y1="2032.20" x2="1118.00" y2="2032.20" stroke="#ff8300" stroke-width="2.2" />
<text x="1124.50" y="2040.60" font-family='"Liberation Serif", serif' font-size="25" font-weight="bold" fill="#ff8300" text-anchor="start" >0.00</text>
<line x1="1108.50" y1="1974.08" x2="1114.00" y2="1974.08" stroke="#ff8300" stroke-width="2.2" />
<line x1="1108.50" y1="1915.97" x2="1118.00" y2="1915.97" stroke="#ff8300" stroke-width="2.2" />
<text x="1124.50" y="1924.37" font-family='"Liberation Serif", serif' font-size="25" font-weight="bold" fill="#ff8300" text-anchor="start" >0.25</text>
<line x1="1108.50" y1="1857.85" x2="1114.00" y2="1857.85" stroke="#ff8300" stroke-width="2.2" />
<line x1="1108.50" y1="1799.73" x2="1118.00" y2="1799.73" stroke="#ff8300" stroke-width="2.2" />
<text x="1124.50" y="1808.13" font-family='"Liberation Serif", serif' font-size="25" font-weight="bold" fill="#ff8300" text-anchor="start" >0.50</text>
<line x1="1108.50" y1="1741.62" x2="1114.00" y2="1741.62" stroke="#ff8300" stroke-width="2.2" />
<line x1="1108.50" y1="1683.50" x2="1118.00" y2="1683.50" stroke="#ff8300" stroke-width="2.2" />
<text x="1124.50" y="1691.90" font-family='"Liberation Serif", serif' font-size="25" font-weight="bold" fill="#ff8300" text-anchor="start" >0.75</text>
<line x1="1108.50" y1="1625.38" x2="1114.00" y2="1625.38" stroke="#ff8300" stroke-width="2.2" />
<line x1="1108.50" y1="1567.27" x2="1118.00" y2="1567.27" stroke="#ff8300" stroke-width="2.2" />
<text x="1124.50" y="1575.67" font-family='"Liberation Serif", serif' font-size="25" font-weight="bold" fill="#ff8300" text-anchor="start" >1.00</text>
<line x1="1108.50" y1="1509.15" x2="1114.00" y2="1509.15" stroke="#ff8300" stroke-width="2.2" />
<line x1="1108.50" y1="1451.03" x2="1118.00" y2="1451.03" stroke="#ff8300" stroke-width="2.2" />
<text x="1124.50" y="1459.43" font-family='"Liberation Serif", serif' font-size="25" font-weight="bold" fill="#ff8300" text-anchor="start" >1.25</text>
<line x1="1108.50" y1="1392.92" x2="1114.00" y2="1392.92" stroke="#ff8300" stroke-width="2.2" />
<line x1="1108.50" y1="1334.80" x2="1118.00" y2="1334.80" stroke="#ff8300" stroke-width="2.2" />
<text x="1124.50" y="1343.20" font-family='"Liberation Serif", serif' font-size="25" font-weight="bold" fill="#ff8300" text-anchor="start" >1.50</text>
<line x1="158.20" y1="2032.20" x2="158.20" y2="2037.70" stroke="#000" stroke-width="2" />
<line x1="180.55" y1="2032.20" x2="180.55" y2="2037.70" stroke="#000" stroke-width="2" />
<line x1="202.90" y1="2032.20" x2="202.90" y2="2037.70" stroke="#000" stroke-width="2" />
<line x1="225.25" y1="2032.20" x2="225.25" y2="2042.20" stroke="#000" stroke-width="2" />
<line x1="247.60" y1="2032.20" x2="247.60" y2="2037.70" stroke="#000" stroke-width="2" />
<line x1="269.95" y1="2032.20" x2="269.95" y2="2037.70" stroke="#000" stroke-width="2" />
<line x1="292.30" y1="2032.20" x2="292.30" y2="2037.70" stroke="#000" stroke-width="2" />
<line x1="314.65" y1="2032.20" x2="314.65" y2="2042.20" stroke="#000" stroke-width="2" />
<line x1="337.00" y1="2032.20" x2="337.00" y2="2037.70" stroke="#000" stroke-width="2" />
<line x1="359.35" y1="2032.20" x2="359.35" y2="2037.70" stroke="#000" stroke-width="2" />
<line x1="381.70" y1="2032.20" x2="381.70" y2="2037.70" stroke="#000" stroke-width="2" />
<line x1="404.05" y1="2032.20" x2="404.05" y2="2042.20" stroke="#000" stroke-width="2" />
<line x1="426.40" y1="2032.20" x2="426.40" y2="2037.70" stroke="#000" stroke-width="2" />
<line x1="448.75" y1="2032.20" x2="448.75" y2="2037.70" stroke="#000" stroke-width="2" />
<line x1="471.10" y1="2032.20" x2="471.10" y2="2037.70" stroke="#000" stroke-width="2" />
<line x1="493.45" y1="2032.20" x2="493.45" y2="2042.20" stroke="#000" stroke-width="2" />
<line x1="515.80" y1="2032.20" x2="515.80" y2="2037.70" stroke="#000" stroke-width="2" />
<line x1="538.15" y1="2032.20" x2="538.15" y2="2037.70" stroke="#000" stroke-width="2" />
<line x1="560.50" y1="2032.20" x2="560.50" y2="2037.70" stroke="#000" stroke-width="2" />
<line x1="582.85" y1="2032.20" x2="582.85" y2="2042.20" stroke="#000" stroke-width="2" />
<line x1="605.20" y1="2032.20" x2="605.20" y2="2037.70" stroke="#000" stroke-width="2" />
<line x1="627.55" y1="2032.20" x2="627.55" y2="2037.70" stroke="#000" stroke-width="2" />
<line x1="649.90" y1="2032.20" x2="649.90" y2="2037.70" stroke="#000" stroke-width="2" />
<line x1="672.25" y1="2032.20" x2="672.25" y2="2042.20" stroke="#000" stroke-width="2" />
<line x1="694.60" y1="2032.20" x2="694.60" y2="2037.70" stroke="#000" stroke-width="2" />
<line x1="716.95" y1="2032.20" x2="716.95" y2="2037.70" stroke="#000" stroke-width="2" />
<line x1="739.30" y1="2032.20" x2="739.30" y2="2037.70" stroke="#000" stroke-width="2" />
<line x1="761.65" y1="2032.20" x2="761.65" y2="2042.20" stroke="#000" stroke-width="2" />
<line x1="784.00" y1="2032.20" x2="784.00" y2="2037.70" stroke="#000" stroke-width="2" />
<line x1="806.35" y1="2032.20" x2="806.35" y2="2037.70" stroke="#000" stroke-width="2" />
<line x1="828.70" y1="2032.20" x2="828.70" y2="2037.70" stroke="#000" stroke-width="2" />
<line x1="851.05" y1="2032.20" x2="851.05" y2="2042.20" stroke="#000" stroke-width="2" />
<line x1="873.40" y1="2032.20" x2="873.40" y2="2037.70" stroke="#000" stroke-width="2" />
<line x1="895.75" y1="2032.20" x2="895.75" y2="2037.70" stroke="#000" stroke-width="2" />
<line x1="918.10" y1="2032.20" x2="918.10" y2="2037.70" stroke="#000" stroke-width="2" />
<line x1="940.45" y1="2032.20" x2="940.45" y2="2042.20" stroke="#000" stroke-width="2" />
<line x1="962.80" y1="2032.20" x2="962.80" y2="2037.70" stroke="#000" stroke-width="2" />
<line x1="985.15" y1="2032.20" x2="985.15" y2="2037.70" stroke="#000" stroke-width="2" />
<line x1="1007.50" y1="2032.20" x2="1007.50" y2="2037.70" stroke="#000" stroke-width="2" />
<line x1="1029.85" y1="2032.20" x2="1029.85" y2="2042.20" stroke="#000" stroke-width="2" />
<line x1="1052.20" y1="2032.20" x2="1052.20" y2="2037.70" stroke="#000" stroke-width="2" />
<line x1="1074.55" y1="2032.20" x2="1074.55" y2="2037.70" stroke="#000" stroke-width="2" />
<line x1="1096.90" y1="2032.20" x2="1096.90" y2="2037.70" stroke="#000" stroke-width="2" />
<text x="225.25" y="2068.50" font-family='"Liberation Serif", serif' font-size="25" font-weight="bold" fill="#000" text-anchor="middle" >201809</text>
<text x="314.65" y="2068.50" font-family='"Liberation Serif", serif' font-size="25" font-weight="bold" fill="#000" text-anchor="middle" >201901</text>
<text x="404.05" y="2068.50" font-family='"Liberation Serif", serif' font-size="25" font-weight="bold" fill="#000" text-anchor="middle" >201905</text>
<text x="493.45" y="2068.50" font-family='"Liberation Serif", serif' font-size="25" font-weight="bold" fill="#000" text-anchor="middle" >201909</text>
<text x="582.85" y="2068.50" font-family='"Liberation Serif", serif' font-size="25" font-weight="bold" fill="#000" text-anchor="middle" >202001</text>
<text x="672.25" y="2068.50" font-family='"Liberation Serif", serif' font-size="25" font-weight="bold" fill="#000" text-anchor="middle" >202005</text>
<text x="761.65" y="2068.50" font-family='"Liberation Serif", serif' font-size="25" font-weight="bold" fill="#000" text-anchor="middle" >202009</text>
<text x="851.05" y="2068.50" font-family='"Liberation Serif", serif' font-size="25" font-weight="bold" fill="#000" text-anchor="middle" >202101</text>
<text x="940.45" y="2068.50" font-family='"Liberation Serif", serif' font-size="25" font-weight="bold" fill="#000" text-anchor="middle" >202105</text>
<text x="1029.85" y="2068.50" font-family='"Liberation Serif", serif' font-size="25" font-weight="bold" fill="#000" text-anchor="middle" >202109</text>
<text transform="translate(72.30,1784.00) rotate(-90)" font-family='"Liberation Serif", serif' font-size="37" font-weight="bold" fill="#008000" text-anchor="start"><tspan font-size="21.5" dy="-19.00">7</tspan><tspan dy="19.00">Be/</tspan><tspan font-size="21.5" dy="-19.00">210</tspan><tspan dy="19.00">Pb</tspan></text>
<text transform="translate(1216.60,1791.00) rotate(-90)" font-family='"Liberation Serif", serif' font-size="37" font-weight="bold" fill="#ff8300" text-anchor="start"><tspan font-size="21.5" dy="-19.50">210</tspan><tspan dy="19.50">Po/</tspan><tspan font-size="21.5" dy="-19.50">210</tspan><tspan dy="19.50">Pb</tspan></text>
</svg></body></html>
